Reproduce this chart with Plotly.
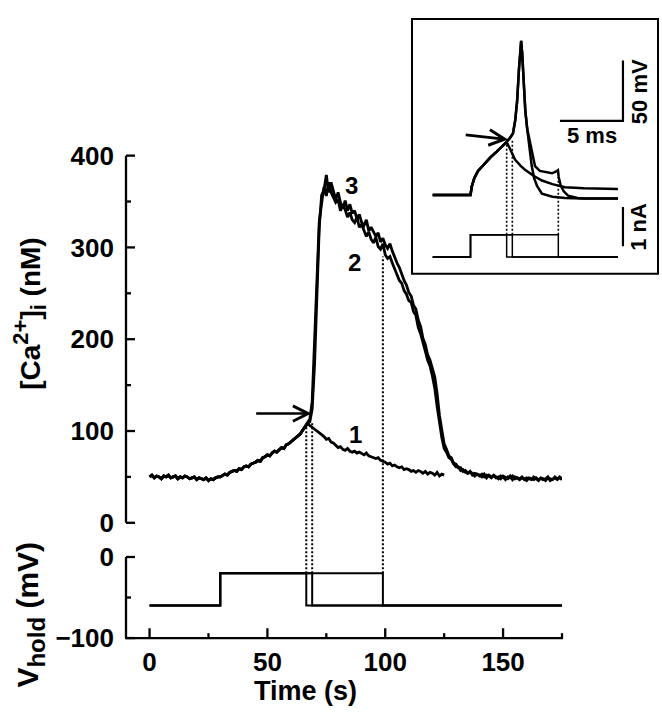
import numpy as np
import plotly.graph_objects as go

# ---------------- DATA ----------------
# [Ca2+]i traces (nM), 1 s sampling
t_pre = np.arange(0, 67)          # shared part, 0..66 s
ca_pre = [50, 52, 49, 51, 50, 48, 51, 50, 52, 49,
          50, 51, 48, 50, 49, 51, 50, 48, 49, 50,
          47, 49, 48, 47, 49, 46, 48, 47, 49, 50,
          50, 52, 53, 52, 55, 56, 57, 56, 59, 58,
          61, 62, 61, 64, 65, 66, 68, 67, 71, 72,
          74, 73, 76, 78, 77, 80, 82, 81, 85, 86,
          88, 90, 92, 95, 97, 101, 105]
t_post1 = np.arange(67, 126)      # trace 1 (subthreshold)
ca_post1 = [108, 106, 104, 101, 100, 97, 96, 94, 91, 92,
            88, 87, 85, 82, 83, 80, 79, 81, 78, 77,
            78, 76, 77, 75, 74, 76, 73, 72, 71, 70,
            71, 68, 67, 66, 64, 65, 62, 63, 61, 60,
            61, 58, 59, 58, 56, 57, 55, 57, 56, 54,
            56, 53, 55, 54, 52, 55, 51, 53, 52]
t_post = np.arange(67, 176)       # traces 2 and 3
ca_post2 = [108, 113, 132, 192, 268, 328, 348, 366, 356, 371,
            360, 355, 349, 352, 340, 346, 341, 333, 338, 330,
            327, 333, 322, 325, 319, 312, 317, 309, 305, 311,
            301, 298, 304, 292, 288, 290, 283, 277, 270, 264,
            261, 253, 249, 242, 240, 230, 226, 213, 206, 195,
            187, 177, 171, 160, 147, 127, 107, 93, 81, 77,
            71, 69, 64, 61, 61, 57, 58, 55, 54, 56,
            52, 54, 53, 51, 53, 50, 52, 51, 49, 52,
            50, 48, 51, 50, 47, 50, 49, 51, 48, 49,
            48, 50, 47, 49, 48, 47, 50, 48, 46, 49,
            47, 48, 50, 46, 48, 49, 47, 50, 48]
ca_post3 = [108, 110, 124, 172, 252, 322, 357, 362, 379, 360,
            371, 362, 352, 360, 349, 343, 351, 340, 347, 337,
            340, 331, 336, 327, 324, 330, 318, 322, 316, 312,
            316, 306, 310, 303, 299, 304, 296, 289, 283, 278,
            270, 264, 259, 251, 247, 237, 233, 221, 214, 201,
            194, 183, 177, 167, 159, 141, 117, 101, 86, 80,
            73, 71, 65, 64, 60, 60, 56, 57, 54, 55,
            54, 51, 53, 52, 50, 53, 49, 52, 50, 51,
            49, 50, 48, 51, 49, 48, 51, 47, 50, 49,
            47, 49, 48, 46, 49, 48, 47, 49, 47, 48,
            48, 46, 49, 48, 47, 50, 48, 49, 47]
trace_labels = ["1", "2", "3"]
label_t = [87.5, 87.0, 85.5]
label_ca = [96, 284, 368]

# Holding-potential protocol (mV, s)
v_hold = -60
v_step = -20
t_start, t_end = 0, 175
step_on = 30
step_off = [66.5, 69.0, 99.0]
dotted_top_ca = [104, 110, 290]

# Main arrow (s, nM)
arrow_tail = (44.6, 119)
arrow_tip = (68.7, 119)

# Axis ticks
x_major = [0, 50, 100, 150]
x_minor = [25, 75, 125, 175]
ca_major = [0, 100, 200, 300, 400]
ca_minor = [50, 150, 250, 350]
vh_major = [-100, 0]
vh_minor = [-50]

# Inset: membrane potential (ms, mV)
v_rise_t = [-3, 0, 0.1, 0.3, 0.6, 1.15, 1.6, 2.08, 2.5, 2.87]
v_rise = [-70, -70, -63, -56, -50, -43.6, -38.5, -34, -30, -26]
v1_t = [3.2, 3.53, 4.0, 4.33, 5.0, 5.67, 6.5, 7.5, 9.0, 11.7]
v1 = [-33, -40.6, -46, -49, -54, -58, -61, -63.5, -64.5, -65]
spike_t = [3.1, 3.37, 3.55, 3.7, 3.85, 3.95, 4.02, 4.1, 4.2, 4.35, 4.5]
spike_v = [-23, -19, -8, 8, 35, 55, 58, 48, 25, 0, -15]
v2_t = [4.6, 4.86, 5.05, 5.28, 5.67, 6.5, 7.5, 9.0, 11.7]
v2 = [-25, -46, -56, -62.5, -69, -71.5, -72.5, -73, -73]
v3_t = [4.7, 4.9, 5.12, 5.5, 6.0, 6.47, 6.8, 6.94, 7.0, 7.15, 7.4, 7.74, 8.5, 9.1, 11.7]
v3 = [-25, -38, -46, -50, -51, -52, -50.5, -49.5, -55, -62, -67, -70.6, -72.5, -73, -73]
# Inset: current steps (ms, nA)
i_start, i_end = -3, 11.7
i_on = 0
i_off = [2.87, 3.32, 6.97]
i_amp = 0.57
inset_dotted_top_v = [-26, -25, -51.7]
inset_arrow_tail = (-0.5, -20)
inset_arrow_tip = (2.98, -24)
# scale bars
bar_t = 12.1
bar_v0, bar_mv = -8.4, 50
bar_ms = 5
bar_i0, bar_na = 0.275, 1

# ---------------- LAYOUT GEOMETRY ----------------
W, H = 662, 719
ML, MR, MT, MB = 124, 0, 0, 79
PW, PH = W - ML - MR, H - MT - MB


def px_x(px):
    return (px - ML) / PW


def px_y(py):
    return (H - MB - py) / PH


XD = [px_x(126), px_x(562)]
X_RANGE = [-10, 175]
YM = [px_y(520), px_y(144)]
YM_RANGE = [0, 400]
YB = [px_y(638), px_y(555)]
YB_RANGE = [-100, 0]
XI = [px_x(412), px_x(658)]
XI_RANGE = [(412 - 470.5) / 12.6, (658 - 470.5) / 12.6]
YI = [px_y(265), px_y(4)]
VI_RANGE = [-70 - (265 - 184.3) / 1.233, -70 + (184.3 - 4) / 1.233]
II_RANGE = [-(265 - 247.7) / 40, (247.7 - 4) / 40]


def lin(v, rng, dom):
    return dom[0] + (v - rng[0]) / (rng[1] - rng[0]) * (dom[1] - dom[0])


FONT = "Liberation Sans"
fig = go.Figure()
blk = "black"

tr_sets = [
    (np.concatenate([t_pre, t_post1]), ca_pre + ca_post1),
    (np.concatenate([t_pre, t_post]), ca_pre + ca_post2),
    (np.concatenate([t_pre, t_post]), ca_pre + ca_post3),
]
for tt, cc in tr_sets:
    fig.add_trace(go.Scatter(x=tt, y=cc, xaxis="x", yaxis="y2", mode="lines",
                             line=dict(color=blk, width=2.8), hoverinfo="skip"))

for off in step_off:
    fig.add_trace(go.Scatter(
        x=[t_start, step_on, step_on, off, off, t_end],
        y=[v_hold, v_hold, v_step, v_step, v_hold, v_hold],
        xaxis="x", yaxis="y", mode="lines",
        line=dict(color=blk, width=2), hoverinfo="skip"))

rise_and_spike_t = v_rise_t + spike_t
rise_and_spike_v = v_rise + spike_v
for tt, vv in [(v_rise_t + v1_t, v_rise + v1),
               (rise_and_spike_t + v2_t, rise_and_spike_v + v2),
               (rise_and_spike_t + v3_t, rise_and_spike_v + v3)]:
    fig.add_trace(go.Scatter(x=tt, y=vv, xaxis="x3", yaxis="y3", mode="lines",
                             line=dict(color=blk, width=2.5), hoverinfo="skip"))
for off in i_off:
    fig.add_trace(go.Scatter(
        x=[i_start, i_on, i_on, off, off, i_end],
        y=[0, 0, i_amp, i_amp, 0, 0],
        xaxis="x3", yaxis="y4", mode="lines",
        line=dict(color=blk, width=1.5), hoverinfo="skip"))
fig.add_trace(go.Scatter(x=[bar_t - bar_ms, bar_t, bar_t], y=[bar_v0, bar_v0, bar_v0 + bar_mv],
                         xaxis="x3", yaxis="y3", mode="lines",
                         line=dict(color=blk, width=2.2), hoverinfo="skip"))
fig.add_trace(go.Scatter(x=[bar_t, bar_t], y=[bar_i0, bar_i0 + bar_na],
                         xaxis="x3", yaxis="y4", mode="lines",
                         line=dict(color=blk, width=2.2), hoverinfo="skip"))


# ---- axis frames (lines + inside ticks) drawn as a trace on a full-frame pixel overlay ----
def fx(v):   # time -> overlay px
    return lin(v, X_RANGE, XD) * PW


def fca(v):  # Ca -> overlay px
    return lin(v, YM_RANGE, YM) * PH


def fvh(v):  # Vhold -> overlay px
    return lin(v, YB_RANGE, YB) * PH


ax_x, ax_y = [], []
x_left = fx(X_RANGE[0])


def seg(x0, y0, x1, y1):
    ax_x.extend([x0, x1, None])
    ax_y.extend([y0, y1, None])


seg(x_left, fca(YM_RANGE[0]), x_left, fca(YM_RANGE[1]))
for v in ca_major:
    seg(x_left, fca(v), x_left + 9, fca(v))
for v in ca_minor:
    seg(x_left, fca(v), x_left + 5, fca(v))
seg(x_left, fvh(YB_RANGE[0]), x_left, fvh(YB_RANGE[1]))
for v in vh_major:
    seg(x_left, fvh(v), x_left + 9, fvh(v))
for v in vh_minor:
    seg(x_left, fvh(v), x_left + 5, fvh(v))
y_bot = fvh(YB_RANGE[0])
seg(x_left - 1, y_bot, fx(X_RANGE[1]) + 1, y_bot)
for v in x_major:
    seg(fx(v), y_bot, fx(v), y_bot + 10)
for v in x_minor:
    seg(fx(v), y_bot, fx(v), y_bot + 5)
fig.add_trace(go.Scatter(x=ax_x, y=ax_y, xaxis="x5", yaxis="y7", mode="lines",
                         line=dict(color=blk, width=2.3), hoverinfo="skip", connectgaps=False))

shapes = []
for off, top in zip(step_off, dotted_top_ca):
    shapes.append(dict(type="line", xref="x", yref="paper", x0=off, x1=off,
                       y0=lin(v_step, YB_RANGE, YB), y1=lin(top, YM_RANGE, YM),
                       line=dict(color=blk, width=2, dash="2px,2px")))
for off, top in zip(i_off, inset_dotted_top_v):
    shapes.append(dict(type="line", xref="x3", yref="paper", x0=off, x1=off,
                       y0=lin(i_amp, II_RANGE, YI), y1=lin(top, VI_RANGE, YI),
                       line=dict(color=blk, width=1.6, dash="2px,2px")))
shapes.append(dict(type="rect", xref="paper", yref="paper",
                   x0=XI[0], x1=XI[1], y0=YI[0], y1=YI[1],
                   line=dict(color=blk, width=2), fillcolor="rgba(0,0,0,0)"))

ann = []
ann.append(dict(text="<b>[Ca<sup><span style='font-size:22px'>2+</span></sup>]"
                     "<sub><span style='font-size:22px'>i</span></sub> (nM)</b>",
                xref="paper", yref="paper",
                x=px_x(30), y=px_y(306), textangle=-90, showarrow=False,
                xanchor="center", yanchor="middle", font=dict(size=28)))
ann.append(dict(text="<b>V<sub><span style='font-size:24px'>hold</span></sub> (mV)</b>",
                xref="paper", yref="paper",
                x=px_x(30), y=px_y(614), textangle=-90, showarrow=False,
                xanchor="center", yanchor="middle", font=dict(size=30)))
ann.append(dict(text="<b>Time (s)</b>", xref="paper", yref="paper",
                x=px_x(305), y=px_y(692), showarrow=False,
                xanchor="center", yanchor="middle", font=dict(size=27)))
for lab, lt, lc in zip(trace_labels, label_t, label_ca):
    ann.append(dict(text="<b>" + lab + "</b>", xref="x", yref="y2", x=lt, y=lc, showarrow=False,
                    xanchor="center", yanchor="middle", font=dict(size=24)))
ann.append(dict(text="", xref="x", yref="y2", x=arrow_tip[0], y=arrow_tip[1],
                axref="x", ayref="y2", ax=arrow_tail[0], ay=arrow_tail[1],
                showarrow=True, arrowhead=5, arrowsize=1.2, arrowwidth=2.5, arrowcolor=blk))
ann.append(dict(text="", xref="x3", yref="y3", x=inset_arrow_tip[0], y=inset_arrow_tip[1],
                axref="x3", ayref="y3", ax=inset_arrow_tail[0], ay=inset_arrow_tail[1],
                showarrow=True, arrowhead=5, arrowsize=1.1, arrowwidth=2.8, arrowcolor=blk))
ann.append(dict(text="<b>5 ms</b>", xref="x3", yref="y3", x=9.64, y=-20.3, showarrow=False,
                xanchor="center", yanchor="middle", font=dict(size=22)))
ann.append(dict(text="<b>50 mV</b>", xref="x3", yref="y3", x=13.37, y=16.2, showarrow=False,
                textangle=-90, xanchor="center", yanchor="middle", font=dict(size=22)))
ann.append(dict(text="<b>1 nA</b>", xref="x3", yref="y4", x=13.37, y=0.77, showarrow=False,
                textangle=-90, xanchor="center", yanchor="middle", font=dict(size=22)))

tickfont = dict(size=26, family=FONT, color=blk, weight="bold")
labels_only = dict(showline=False, ticks="", showgrid=False, zeroline=False, tickfont=tickfont)

fig.update_layout(
    width=W, height=H, margin=dict(l=ML, r=MR, t=MT, b=MB),
    paper_bgcolor="white", plot_bgcolor="rgba(0,0,0,0)", showlegend=False,
    font=dict(family=FONT, size=26, color=blk),
    xaxis=dict(domain=XD, range=X_RANGE, anchor="y", tickvals=x_major,
               ticklabelstandoff=6, **labels_only),
    yaxis=dict(domain=YB, range=YB_RANGE, anchor="x", tickvals=vh_major,
               ticklabelstandoff=11, **labels_only),
    yaxis2=dict(domain=YM, range=YM_RANGE, anchor="x", tickvals=ca_major,
                ticklabelstandoff=11, **labels_only),
    xaxis3=dict(domain=XI, range=XI_RANGE, anchor="y3", visible=False),
    yaxis3=dict(domain=YI, range=VI_RANGE, anchor="x3", visible=False),
    yaxis4=dict(range=II_RANGE, overlaying="y3", anchor="x3", visible=False),
    xaxis5=dict(domain=[0, 1], range=[0, PW], anchor="y7", visible=False),
    yaxis7=dict(domain=[0, 1], range=[0, PH], anchor="x5", visible=False),
    shapes=shapes, annotations=ann,
)

fig.write_html("out.html", config={"displayModeBar": False},
               post_script="document.body.style.margin='0px';")
